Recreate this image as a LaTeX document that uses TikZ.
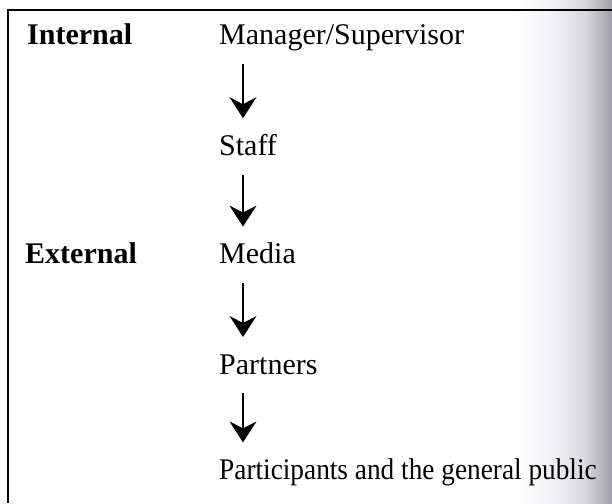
\documentclass[tikz,border=0pt]{standalone}
\usepackage{fontspec}
\setmainfont{Liberation Serif}
\usetikzlibrary{arrows.meta,positioning}

\definecolor{edgeA}{RGB}{242,242,246}
\definecolor{edgeB}{RGB}{216,216,221}
\definecolor{edgeC}{RGB}{160,160,166}
\pgfdeclarehorizontalshading{pageedge}{100bp}{color(0bp)=(white); color(25bp)=(white); color(45bp)=(edgeA); color(61bp)=(edgeB); color(75bp)=(edgeC); color(100bp)=(edgeC)}

\begin{document}
\begin{tikzpicture}[
  x=1pt, y=-1pt,
  level/.style={inner sep=0pt, text height=20pt, text depth=7pt, font=\fontsize{30}{36}\selectfont},
  group/.style={level, font=\fontsize{30}{36}\selectfont\bfseries},
  arrow/.style={-{Stealth[length=21pt, width=27pt, inset=7pt]}, line width=1.3pt, shorten <=12pt, shorten >=17pt}
]

% Page edge and frame
\useasboundingbox (0,0) rectangle (612,503);
\shade[shading=pageedge] (515,0) rectangle (612,503);
\draw[line width=2pt] (8,503) -- (8,10) -- (612,10);

% Chain of communication
\node[level, anchor=base west] (mgr) at (219,45) {Manager/Supervisor};
\node[level, below=83pt of mgr.south west, anchor=north west] (staff) {Staff};
\node[level, below=81pt of staff.south west, anchor=north west] (media) {Media};
\node[level, below=83pt of media.south west, anchor=north west] (partners) {Partners};
\node[level, below=78pt of partners.south west, anchor=north west] (public) {\scalebox{0.91}[1]{Participants and the general public}};

% Groups
\node[group, anchor=base west] (internal) at ([xshift=-192pt]mgr.base west) {Internal};
\node[group, anchor=base west] (external) at ([xshift=-194pt]media.base west) {External};

% Arrows
\draw[arrow] ([xshift=24pt]mgr.south west) -- ([xshift=24pt]staff.north west);
\draw[arrow] ([xshift=24pt]staff.south west) -- ([xshift=24pt]media.north west);
\draw[arrow] ([xshift=24pt]media.south west) -- ([xshift=24pt]partners.north west);
\draw[arrow] ([xshift=24pt]partners.south west) -- ([xshift=24pt]public.north west);

\end{tikzpicture}
\end{document}
